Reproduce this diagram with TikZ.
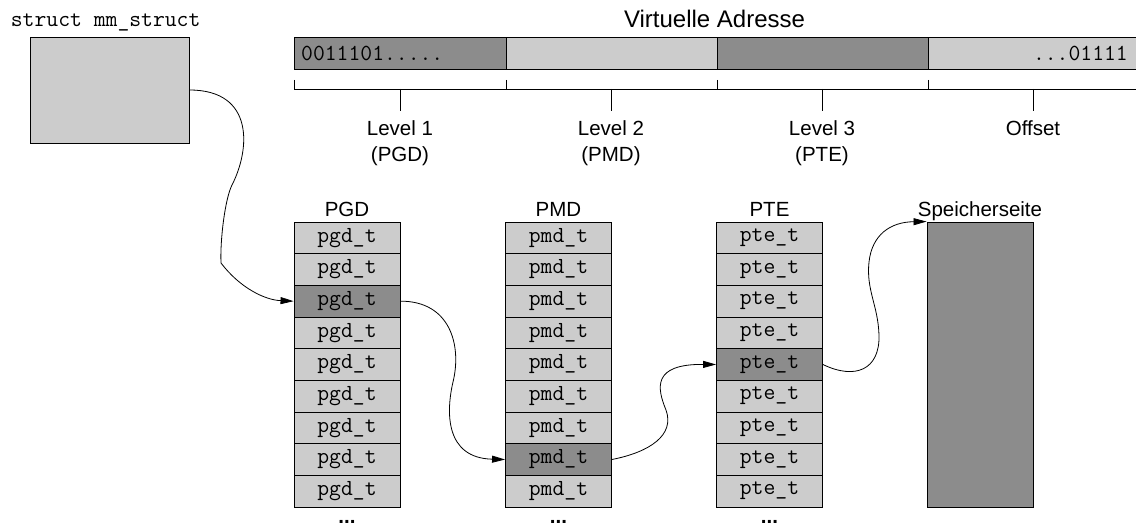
\documentclass[tikz,border=0pt]{standalone}
\usepackage{fontspec}
\setmainfont{Liberation Sans}
\usetikzlibrary{arrows.meta}
\definecolor{lightcell}{HTML}{CCCCCC}
\definecolor{darkcell}{HTML}{8C8C8C}
\newcommand\monofnt{\fontsize{23}{26}\ttfamily}
\newcommand\labfnt{\fontsize{20.5}{26}\selectfont}
\begin{document}
\begin{tikzpicture}[x=1pt,y=-1pt,
  cell/.style={draw=black, line width=0.9pt, fill=lightcell, minimum width=106pt,
    minimum height=31.67pt, inner sep=0pt, font=\monofnt},
  hicell/.style={cell, fill=darkcell},
  barseg/.style={draw=black, line width=0.9pt, minimum height=32pt, inner sep=0pt},
  lbl/.style={font=\labfnt, inner sep=0pt},
  dots/.style={font=\bfseries\labfnt, inner sep=0pt, anchor=base},
  ptr/.style={line width=0.8pt, -{Triangle[length=13pt,width=7pt]}},
  brk/.style={line width=0.9pt}]
\useasboundingbox (0,0) rectangle (1136,527);

% mm_struct
\node[anchor=base west, font=\monofnt, inner sep=0pt] (mmlabel) at (10.7,26.7) {struct mm\_struct};
\node[draw=black, line width=0.9pt, fill=lightcell, minimum width=159pt, minimum height=106pt, inner sep=0pt] (mm) at (109.5,90) {};

% virtual address
\node[anchor=base, font=\fontsize{24}{28}\selectfont, inner sep=0pt] (title) at (714.5,27.3) {Virtuelle Adresse};
\node[barseg, fill=darkcell, minimum width=212pt] (s1) at (400,53.3) {};
\node[barseg, fill=lightcell, minimum width=211pt] (s2) at (611.5,53.3) {};
\node[barseg, fill=darkcell, minimum width=211pt] (s3) at (822.5,53.3) {};
\node[barseg, fill=lightcell, minimum width=212pt] (s4) at (1034,53.3) {};
\node[anchor=base west, font=\monofnt, inner sep=0pt] (bits1) at (301,60.3) {0011101.....};
\node[anchor=base east, font=\monofnt, inner sep=0pt] (bits4) at (1128,60.3) {...01111};

% bracket
\draw[brk] (294,80) -- (294,89) -- (1140,89);
\draw[brk] (506,80) -- (506,89);
\draw[brk] (717,80) -- (717,89);
\draw[brk] (928,80) -- (928,89);
\draw[brk] (400,89) -- (400,110.7);
\draw[brk] (611,89) -- (611,110.7);
\draw[brk] (822,89) -- (822,110.7);
\draw[brk] (1033,89) -- (1033,110.7);
\node[lbl, anchor=north, align=center] (l1) at (400,120.5) {Level 1\\(PGD)};
\node[lbl, anchor=north, align=center] (l2) at (611,120.5) {Level 2\\(PMD)};
\node[lbl, anchor=north, align=center] (l3) at (822,120.5) {Level 3\\(PTE)};
\node[lbl, anchor=north, align=center] (l4) at (1033,120.5) {Offset};

% tables
\node[lbl, anchor=base] (hpgd) at (347,216.7) {PGD};
\node[lbl, anchor=base] (hpmd) at (558.5,216.7) {PMD};
\node[lbl, anchor=base] (hpte) at (769.5,216.7) {PTE};
\node[lbl, anchor=base] (hpage) at (980,216.7) {Speicherseite};

\foreach \i/\st in {1/cell,2/cell,3/hicell,4/cell,5/cell,6/cell,7/cell,8/cell,9/cell}
  \node[\st] (pgd\i) at (347,{222+31.667*(\i-0.5)}) {pgd\_t};
\foreach \i/\st in {1/cell,2/cell,3/cell,4/cell,5/cell,6/cell,7/cell,8/hicell,9/cell}
  \node[\st] (pmd\i) at (558.5,{222+31.667*(\i-0.5)}) {pmd\_t};
\foreach \i/\st in {1/cell,2/cell,3/cell,4/cell,5/hicell,6/cell,7/cell,8/cell,9/cell}
  \node[\st] (pte\i) at (769.5,{222+31.667*(\i-0.5)}) {pte\_t};
\node[draw=black, line width=0.9pt, fill=darkcell, minimum width=106pt, minimum height=285pt, inner sep=0pt] (page) at (980,364.5) {};

\node[dots] (dpgd) at (347,523) {...};
\node[dots] (dpmd) at (558.5,523) {...};
\node[dots] (dpte) at (769.5,523) {...};

% pointers
\draw[ptr] (mm.east) .. controls (255,90) and (250,150) .. (232,185)
  .. controls (225,199) and (220,240) .. (221,263)
  .. controls (240,288) and (265,300) .. (pgd3.west);
\draw[ptr] (pgd3.east) .. controls (450,301) and (462,345) .. (453,382)
  .. controls (446,412) and (445,458) .. (pmd8.west);
\draw[ptr] (pmd8.east) .. controls (650,452) and (675,435) .. (666,410)
  .. controls (657,388) and (652,364) .. (pte5.west);
\draw[ptr] (pte5.east) .. controls (855,380) and (880,370) .. (879,335)
  .. controls (878,305) and (866,290) .. (869,262)
  .. controls (872,235) and (890,222) .. (page.north west);
\end{tikzpicture}
\end{document}
